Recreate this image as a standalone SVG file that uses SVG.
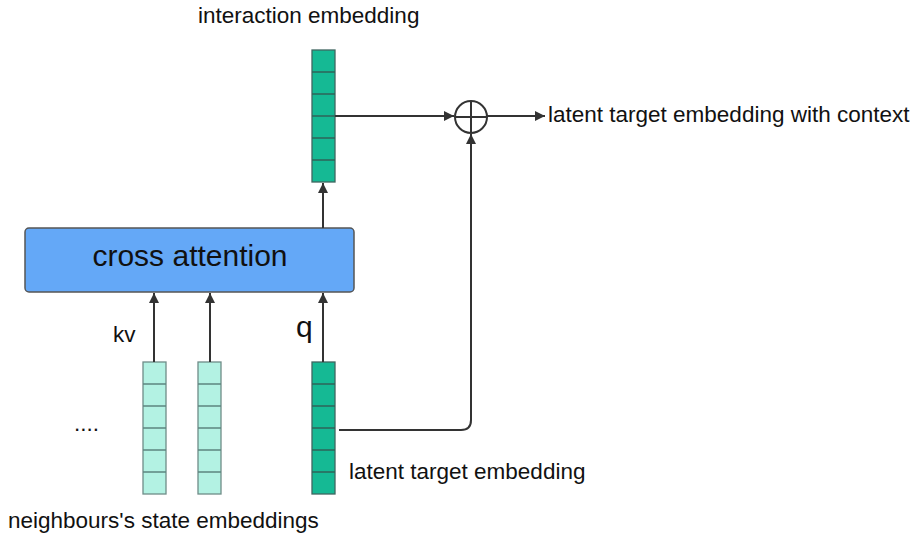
<svg xmlns="http://www.w3.org/2000/svg" width="914" height="536" viewBox="0 0 914 536">
<defs>
<style>
text{font-family:"Liberation Sans",Arial,sans-serif;fill:#111;font-size:22.5px}
.dark{fill:#15b994;stroke:#3f6660;stroke-width:1.3}
.light{fill:#b3f2e3;stroke:#6f8c88;stroke-width:1.3}
.sepd{stroke:#2f6358;stroke-width:1.3}
.sepl{stroke:#5e8580;stroke-width:1.3}
.conn{fill:none;stroke:#333;stroke-width:2}
</style>
<marker id="ah" viewBox="0 0 10 10" refX="10" refY="5" markerWidth="5" markerHeight="5" orient="auto" markerUnits="strokeWidth">
<path d="M0,0 L10,5 L0,10 z" fill="#333"/>
</marker>
</defs>
<rect width="914" height="536" fill="#fff"/>

<g id="interaction-embedding">
<rect class="dark" x="312" y="50" width="23" height="132"/>
<path class="sepd" d="M312,72H335M312,94H335M312,116H335M312,138H335M312,160H335"/>
<text x="198" y="23">interaction embedding</text>
</g>

<g id="plus">
<circle cx="471" cy="117" r="16" fill="#fff" stroke="#333" stroke-width="2"/>
<path d="M455,117H487M471,101V133" stroke="#333" stroke-width="2"/>
</g>

<g id="output-label">
<text x="548" y="122">latent target embedding with context</text>
</g>

<g id="cross-attention">
<rect x="25" y="228" width="329" height="64" rx="4" fill="#64a8f7" stroke="#555" stroke-width="1.5"/>
<text x="190" y="266" text-anchor="middle" style="font-size:30px">cross attention</text>
</g>

<g id="neighbour-1">
<rect class="light" x="143" y="362" width="23" height="132"/>
<path class="sepl" d="M143,384H166M143,406H166M143,428H166M143,450H166M143,472H166"/>
</g>
<g id="neighbour-2">
<rect class="light" x="198" y="362" width="23" height="132"/>
<path class="sepl" d="M198,384H221M198,406H221M198,428H221M198,450H221M198,472H221"/>
</g>
<g id="target-embedding">
<rect class="dark" x="312" y="362" width="23" height="132"/>
<path class="sepd" d="M312,384H335M312,406H335M312,428H335M312,450H335M312,472H335"/>
<text x="349" y="479">latent target embedding</text>
</g>

<g id="labels">
<text x="113" y="342">kv</text>
<text x="296" y="337" style="font-size:30px">q</text>
<text x="74" y="431">....</text>
<text x="8" y="528">neighbours's state embeddings</text>
</g>

<g id="connectors">
<path class="conn" d="M323,228V183" marker-end="url(#ah)"/>
<path class="conn" d="M335,116H454" marker-end="url(#ah)"/>
<path class="conn" d="M487,116H545" marker-end="url(#ah)"/>
<path class="conn" d="M154,362V293" marker-end="url(#ah)"/>
<path class="conn" d="M210,362V293" marker-end="url(#ah)"/>
<path class="conn" d="M323,362V293" marker-end="url(#ah)"/>
<path class="conn" d="M339,430H461Q471,430 471,420V134" marker-end="url(#ah)"/>
</g>
</svg>
